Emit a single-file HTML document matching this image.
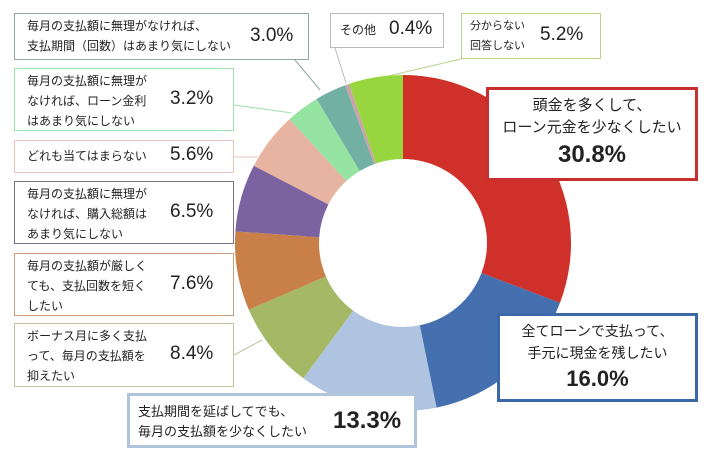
<!DOCTYPE html>
<html><head><meta charset="utf-8"><style>
body{margin:0;background:#fff;}
.wrap{position:relative;width:710px;height:474px;overflow:hidden;font-family:"Liberation Sans","Noto Sans CJK JP",sans-serif;color:#222;}
.b{position:absolute;background:#fff;box-sizing:border-box;}
.t{position:absolute;font-size:12px;line-height:20px;}
.p{position:absolute;font-size:19px;}
</style></head><body><div class="wrap">
<svg id="s" width="710" height="474" style="position:absolute;left:0;top:0"></svg>

<div class="b" style="left:14px;top:13px;width:295px;height:47px;border:1.5px solid #8fa8a4"><div class="t" style="left:12px;top:2px">毎月の支払額に無理がなければ、<br>支払期間（回数）はあまり気にしない</div><div class="p" style="left:235px;top:11px">3.0%</div></div>
<div class="b" style="left:14px;top:68px;width:220px;height:63px;border:1.5px solid #9ee0aa"><div class="t" style="left:12px;top:2px">毎月の支払額に無理が<br>なければ、ローン金利<br>はあまり気にしない</div><div class="p" style="left:155px;top:19px">3.2%</div></div>
<div class="b" style="left:14px;top:140px;width:220px;height:33px;border:1.5px solid #e8c4bc"><div class="t" style="left:12px;top:5px">どれも当てはまらない</div><div class="p" style="left:155px;top:3px">5.6%</div></div>
<div class="b" style="left:14px;top:181px;width:220px;height:63px;border:1.5px solid #7a6e8c"><div class="t" style="left:12px;top:2px">毎月の支払額に無理が<br>なければ、購入総額は<br>あまり気にしない</div><div class="p" style="left:155px;top:19px">6.5%</div></div>
<div class="b" style="left:14px;top:253px;width:220px;height:63px;border:1.5px solid #c8a080"><div class="t" style="left:12px;top:2px">毎月の支払額が厳しく<br>ても、支払回数を短く<br>したい</div><div class="p" style="left:155px;top:19px">7.6%</div></div>
<div class="b" style="left:14px;top:323px;width:220px;height:64px;border:1.5px solid #c8c0a0"><div class="t" style="left:12px;top:2px">ボーナス月に多く支払<br>って、毎月の支払額を<br>抑えたい</div><div class="p" style="left:155px;top:19px">8.4%</div></div>
<div class="b" style="left:127px;top:393px;width:290px;height:55px;border:3px solid #b0c4dc"><div class="t" style="left:8px;top:6px;font-size:13px">支払期間を延ばしてでも、<br>毎月の支払額を少なくしたい</div><div class="p" style="left:203px;top:11px;font-size:24px;font-weight:bold">13.3%</div></div>
<div class="b" style="left:330px;top:13px;width:114px;height:35px;border:1.5px solid #bbb"><div class="t" style="left:9px;top:6px">その他</div><div class="p" style="left:58px;top:4px">0.4%</div></div>
<div class="b" style="left:461px;top:13px;width:140px;height:46px;border:1.5px solid #b8d48c"><div class="t" style="left:8px;top:2px;font-size:11px">分からない<br>回答しない</div><div class="p" style="left:78px;top:10px">5.2%</div></div>
<div class="b" style="left:486px;top:87px;width:212px;height:94px;border:3px solid #c83030"><div class="t" style="left:0;width:206px;text-align:center;top:5px;font-size:15px;line-height:22px">頭金を多くして、<br>ローン元金を少なくしたい</div><div class="p" style="left:0;width:206px;text-align:center;top:51px;font-size:24px;font-weight:bold">30.8%</div></div>
<div class="b" style="left:497px;top:313px;width:201px;height:89px;border:3px solid #3c68a8"><div class="t" style="left:0;width:195px;text-align:center;top:4px;font-size:14px;line-height:22px">全てローンで支払って、<br>手元に現金を残したい</div><div class="p" style="left:0;width:195px;text-align:center;top:50px;font-size:22px;font-weight:bold">16.0%</div></div>
</div>
<script>
var s=document.getElementById('s'),cx=403,cy=243,R=168,r=84;
var d=[[30.8,'#d0302a'],[16.0,'#4470b0'],[13.3,'#afc4e0'],[8.4,'#a5b865'],[7.6,'#c88048'],[6.5,'#7b62a0'],[5.6,'#e8b4a2'],[3.2,'#96e4a2'],[3.0,'#72b0a4'],[0.4,'#c8a4a8'],[5.2,'#98d640']];
var h='';
h+='<line x1="295" y1="60" x2="320" y2="90" stroke="#8fa8a4"/>';
h+='<line x1="234" y1="105" x2="292" y2="113" stroke="#9ee0aa"/>';
h+='<line x1="234" y1="157" x2="258" y2="157" stroke="#e8c4bc"/>';
h+='<line x1="234" y1="355" x2="262" y2="340" stroke="#c8c0a0"/>';
h+='<line x1="335" y1="48" x2="346" y2="83" stroke="#bbb"/>';
h+='<line x1="465" y1="58" x2="380" y2="78" stroke="#b8d48c"/>';
var a=0;
d.forEach(function(x){var a1=a+x[0]/100*2*Math.PI;var L=(a1-a)>Math.PI?1:0;
function p(rr,t){return (cx+rr*Math.sin(t)).toFixed(2)+' '+(cy-rr*Math.cos(t)).toFixed(2);}
h+='<path d="M'+p(R,a)+' A'+R+' '+R+' 0 '+L+' 1 '+p(R,a1)+' L'+p(r,a1)+' A'+r+' '+r+' 0 '+L+' 0 '+p(r,a)+'Z" fill="'+x[1]+'"/>';a=a1;});
s.innerHTML=h;
</script>
</body></html>
